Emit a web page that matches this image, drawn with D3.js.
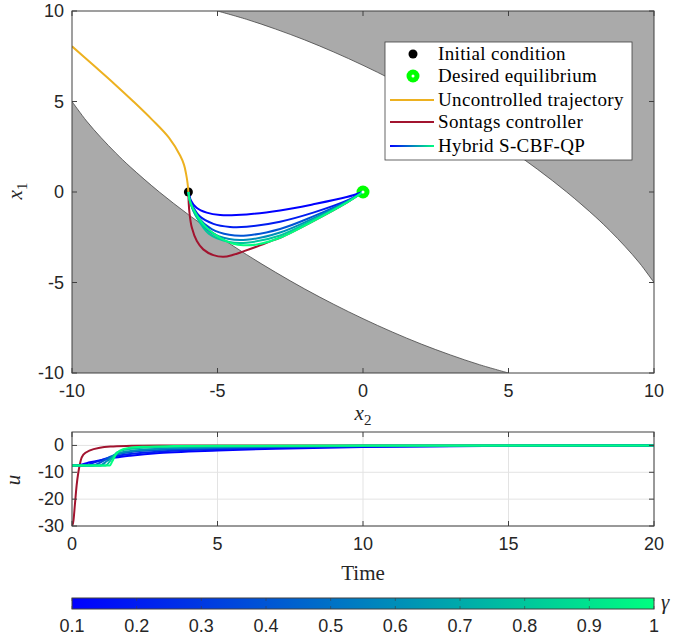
<!DOCTYPE html>
<html><head><meta charset="utf-8">
<script src="https://cdn.jsdelivr.net/npm/d3@7"></script>
<style>body{margin:0;background:#fff}svg{display:block}</style>
</head><body>
<svg id="c" width="699" height="641"></svg>
<script>
// ---------- DATA ----------
const x2Ticks = [-10, -5, 0, 5, 10];
const x1Ticks = [-10, -5, 0, 5, 10];
const timeTicks = [0, 5, 10, 15, 20];
const uTicks = [-30, -20, -10, 0];
const gammaTicks = [0.1, 0.2, 0.3, 0.4, 0.5, 0.6, 0.7, 0.8, 0.9, 1];
const legendLabels = ["Initial condition", "Desired equilibrium", "Uncontrolled trajectory", "Sontags controller", "Hybrid S-CBF-QP"];

// safe-set boundary (x2, x1)
const lowerBoundary = [[-10,5],[-9.5,3.92],[-9,3.0],[-8.5,2.16],[-8,1.39],[-7,0],[-6,-1.25],[-5,-2.4],[-4,-3.46],[-3,-4.44],[-2,-5.36],[-1,-6.21],[0,-7],[1,-7.73],[2,-8.4],[3,-9.0],[4,-9.54],[5,-10]];
const upperBoundary = [[-5,10],[-4,9.54],[-3,9.0],[-2,8.4],[-1,7.73],[0,7],[1,6.21],[2,5.36],[3,4.44],[4,3.46],[5,2.4],[6,1.25],[7,0],[8,-1.39],[8.5,-2.16],[9,-3.0],[9.5,-3.92],[10,-5]];

const initialCondition = [-6, 0];
const desiredEquilibrium = [0, 0];

const uncontrolledTraj = [[-6,0],[-6.03,0.5],[-6.08,1],[-6.15,1.5],[-6.28,2],[-6.67,3],[-7.25,4],[-7.89,5],[-8.56,6],[-9.26,7],[-10,8.05]];
const sontagTraj = [[-6,0],[-5.99,-0.6],[-5.96,-1.2],[-5.88,-1.98],[-5.71,-2.71],[-5.49,-3.17],[-5.14,-3.49],[-4.8,-3.58],[-4.46,-3.47],[-4.11,-3.28],[-3.54,-2.95],[-3.08,-2.66],[-2.85,-2.53],[-1.71,-1.61],[-0.56,-0.59],[0,0]];

const gammas = [0.1, 0.2, 0.4, 0.6, 0.8, 1.0];
const hybridTraj = [
  [[-6,0],[-5.92,-0.45],[-5.72,-0.87],[-5.37,-1.14],[-4.91,-1.27],[-4.0,-1.24],[-2.85,-1.02],[-1.71,-0.68],[-0.56,-0.28],[0,0]],
  [[-6,0],[-5.9,-0.6],[-5.62,-1.33],[-5.14,-1.76],[-4.57,-1.93],[-4.0,-1.92],[-2.85,-1.64],[-1.71,-1.14],[-0.56,-0.48],[0,0]],
  [[-6,0],[-5.92,-0.62],[-5.66,-1.42],[-5.2,-2.05],[-4.6,-2.36],[-4.0,-2.4],[-2.85,-2.04],[-1.71,-1.35],[-0.56,-0.52],[0,0]],
  [[-6,0],[-5.93,-0.6],[-5.69,-1.45],[-5.25,-2.2],[-4.6,-2.6],[-4.0,-2.64],[-2.85,-2.24],[-1.71,-1.46],[-0.56,-0.55],[0,0]],
  [[-6,0],[-5.94,-0.55],[-5.71,-1.4],[-5.3,-2.3],[-4.6,-2.76],[-4.0,-2.8],[-2.85,-2.4],[-1.71,-1.54],[-0.56,-0.58],[0,0]],
  [[-6,0],[-5.95,-0.5],[-5.72,-1.24],[-5.37,-1.98],[-4.91,-2.53],[-4.46,-2.86],[-4.11,-2.94],[-3.65,-2.9],[-2.85,-2.53],[-1.71,-1.61],[-0.56,-0.59],[0,0]]
];

const sontagU = [[0,-30],[0.05,-28],[0.1,-22],[0.16,-14.8],[0.22,-9.9],[0.3,-5.6],[0.39,-3.4],[0.62,-1.85],[0.96,-0.85],[1.42,-0.37],[2.1,-0.1],[3,0],[20,0]];
const hybridU = [
  [[0,-7.5],[0.25,-7.3],[0.5,-6.6],[1,-5.5],[1.5,-4.5],[2,-3.8],[3,-2.8],[4,-2.3],[5,-1.9],[7,-1.2],[10,-0.6],[15,-0.2],[20,-0.05]],
  [[0,-7.5],[0.45,-7.4],[0.8,-6.2],[1.2,-4.8],[1.5,-4.0],[2,-3.2],[3,-2.3],[5,-1.4],[7,-0.8],[10,-0.4],[15,-0.1],[20,0]],
  [[0,-7.5],[0.7,-7.5],[1.0,-6.2],[1.3,-4.3],[1.6,-3.2],[2,-2.5],[3,-1.7],[5,-1.0],[7,-0.5],[10,-0.25],[20,0]],
  [[0,-7.5],[0.95,-7.5],[1.2,-5.8],[1.45,-3.6],[1.7,-2.6],[2.2,-1.8],[3,-1.2],[5,-0.6],[10,-0.15],[20,0]],
  [[0,-7.5],[1.15,-7.5],[1.35,-5.2],[1.55,-2.6],[1.8,-1.6],[2.3,-1.0],[3,-0.6],[5,-0.3],[10,-0.05],[20,0]],
  [[0,-7.5],[1.3,-7.5],[1.38,-6],[1.5,-3.5],[1.65,-1.9],[1.9,-1.0],[2.5,-0.5],[3.5,-0.25],[5,-0.1],[20,0]]
];

// ---------- DRAW ----------
const svg = d3.select("#c");
const defs = svg.append("defs");
const AX = "#404040", TICKF = "'Liberation Sans', Arial, sans-serif", SERIF = "'Liberation Serif', 'Times New Roman', serif";
const ORANGE = "#EDB120", RED = "#A2142F";
const gMin = 0.1, gMax = 1;
const winter = g => { const t = (g - gMin) / (gMax - gMin); return d3.rgb(0, 255 * t, 255 - 127.5 * t).formatHex(); };

const L = 72, R = 654;
// top plot
const T1 = 11, B1 = 373;
const x = d3.scaleLinear().domain([-10, 10]).range([L, R]);
const y = d3.scaleLinear().domain([-10, 10]).range([B1, T1]);
defs.append("clipPath").attr("id", "clipTop").append("rect").attr("x", L).attr("y", T1).attr("width", R - L).attr("height", B1 - T1);
const topG = svg.append("g");
const pl = topG.append("g").attr("clip-path", "url(#clipTop)");
const bnd = d3.line().x(d => x(d[0])).y(d => y(d[1])).curve(d3.curveCatmullRom.alpha(0.5));
const area1 = bnd(lowerBoundary) + `L${x(-10)},${y(-10)}Z`;
const area2 = bnd(upperBoundary) + `L${x(10)},${y(10)}Z`;
pl.append("path").attr("d", area1).attr("fill", "#aaaaaa");
pl.append("path").attr("d", area2).attr("fill", "#aaaaaa");
pl.append("path").attr("d", bnd(lowerBoundary)).attr("fill", "none").attr("stroke", "#444").attr("stroke-width", 0.8);
pl.append("path").attr("d", bnd(upperBoundary)).attr("fill", "none").attr("stroke", "#444").attr("stroke-width", 0.8);

// markers
pl.append("circle").attr("cx", x(initialCondition[0])).attr("cy", y(initialCondition[1])).attr("r", 4.5).attr("fill", "#000");
pl.append("circle").attr("cx", x(desiredEquilibrium[0])).attr("cy", y(desiredEquilibrium[1])).attr("r", 6.5).attr("fill", "#00ff00");

const ln = d3.line().x(d => x(d[0])).y(d => y(d[1])).curve(d3.curveCatmullRom.alpha(0.5));
pl.append("path").attr("d", ln(uncontrolledTraj)).attr("fill", "none").attr("stroke", ORANGE).attr("stroke-width", 2);
pl.append("path").attr("d", ln(sontagTraj)).attr("fill", "none").attr("stroke", RED).attr("stroke-width", 2);
hybridTraj.forEach((tr, i) => {
  pl.append("path").attr("d", ln(tr)).attr("fill", "none").attr("stroke", winter(gammas[i])).attr("stroke-width", 2);
});
pl.append("circle").attr("cx", x(desiredEquilibrium[0])).attr("cy", y(desiredEquilibrium[1])).attr("r", 1.5).attr("fill", "#fff");

function gridLines(g, xs, ys, xt, yt, t, b) {
  g.selectAll(".gx").data(xt).enter().append("line").attr("x1", d => xs(d)).attr("x2", d => xs(d)).attr("y1", t).attr("y2", b).attr("stroke", "#e3e3e3").attr("stroke-width", 1);
  g.selectAll(".gy").data(yt).enter().append("line").attr("y1", d => ys(d)).attr("y2", d => ys(d)).attr("x1", L).attr("x2", R).attr("stroke", "#e3e3e3").attr("stroke-width", 1);
}
function axesBox(g, xs, ys, xt, yt, t, b) {
  const tl = 5;
  xt.forEach(d => {
    g.append("line").attr("x1", xs(d)).attr("x2", xs(d)).attr("y1", b).attr("y2", b - tl).attr("stroke", AX);
    g.append("line").attr("x1", xs(d)).attr("x2", xs(d)).attr("y1", t).attr("y2", t + tl).attr("stroke", AX);
  });
  yt.forEach(d => {
    g.append("line").attr("y1", ys(d)).attr("y2", ys(d)).attr("x1", L).attr("x2", L + tl).attr("stroke", AX);
    g.append("line").attr("y1", ys(d)).attr("y2", ys(d)).attr("x1", R).attr("x2", R - tl).attr("stroke", AX);
  });
  g.append("rect").attr("x", L).attr("y", t).attr("width", R - L).attr("height", b - t).attr("fill", "none").attr("stroke", AX).attr("stroke-width", 1);
  g.selectAll(".xl").data(xt).enter().append("text").attr("x", d => xs(d)).attr("y", b + 24)
    .attr("text-anchor", "middle").attr("font-family", TICKF).attr("font-size", 18).attr("fill", "#262626").text(d => d);
  g.selectAll(".yl").data(yt).enter().append("text").attr("x", L - 8).attr("y", d => ys(d) + 6)
    .attr("text-anchor", "end").attr("font-family", TICKF).attr("font-size", 18).attr("fill", "#262626").text(d => d);
}
axesBox(topG, x, y, x2Ticks, x1Ticks, T1, B1);

// axis labels
function mathLabel(g, xp, yp, main, sub, rot) {
  const t = g.append("text").attr("font-family", SERIF).attr("font-size", 21).attr("fill", "#262626")
    .attr("text-anchor", "middle")
    .attr("transform", `translate(${xp},${yp})` + (rot ? " rotate(-90)" : ""));
  t.append("tspan").attr("font-style", "italic").text(main);
  if (sub) t.append("tspan").attr("font-size", 15).attr("dy", 5).text(sub);
}
mathLabel(svg, 363, 420, "x", "2", false);
mathLabel(svg, 22, 191, "x", "1", true);

// legend
const lg = svg.append("g");
lg.append("rect").attr("x", 385).attr("y", 42).attr("width", 247).attr("height", 118).attr("fill", "#fff").attr("stroke", AX).attr("stroke-width", 0.8);
const ly = [54, 76, 100, 122, 146];
const grad = defs.append("linearGradient").attr("id", "lgGrad");
grad.append("stop").attr("offset", "0%").attr("stop-color", winter(gMin));
grad.append("stop").attr("offset", "100%").attr("stop-color", winter(gMax));
lg.append("circle").attr("cx", 413).attr("cy", ly[0]).attr("r", 4.5).attr("fill", "#000");
lg.append("circle").attr("cx", 413).attr("cy", ly[1]).attr("r", 6.5).attr("fill", "#00ff00");
lg.append("circle").attr("cx", 413).attr("cy", ly[1]).attr("r", 1.5).attr("fill", "#fff");
lg.append("line").attr("x1", 390).attr("x2", 434).attr("y1", ly[2]).attr("y2", ly[2]).attr("stroke", ORANGE).attr("stroke-width", 2);
lg.append("line").attr("x1", 390).attr("x2", 434).attr("y1", ly[3]).attr("y2", ly[3]).attr("stroke", RED).attr("stroke-width", 2);
lg.append("rect").attr("x", 390).attr("width", 44).attr("y", ly[4] - 1).attr("height", 2).attr("fill", "url(#lgGrad)");
legendLabels.forEach((s, i) => {
  lg.append("text").attr("x", 438).attr("y", ly[i] + 5.5).attr("font-family", SERIF).attr("font-size", 19).attr("letter-spacing", 0.35).attr("fill", "#000").text(s);
});

// bottom plot
const T2 = 432, B2 = 526;
const xt = d3.scaleLinear().domain([0, 20]).range([L, R]);
const yu = d3.scaleLinear().domain([-30, 5]).range([B2, T2]);
const bot = svg.append("g");
gridLines(bot, xt, yu, timeTicks, uTicks, T2, B2);
defs.append("clipPath").attr("id", "clipBot").append("rect").attr("x", L).attr("y", T2).attr("width", R - L).attr("height", B2 - T2);
const pb = bot.append("g").attr("clip-path", "url(#clipBot)");
const lu = d3.line().x(d => xt(d[0])).y(d => yu(d[1])).curve(d3.curveMonotoneX);
pb.append("path").attr("d", lu(sontagU)).attr("fill", "none").attr("stroke", RED).attr("stroke-width", 2);
hybridU.forEach((tr, i) => {
  pb.append("path").attr("d", lu(tr)).attr("fill", "none").attr("stroke", winter(gammas[i])).attr("stroke-width", 2);
});
axesBox(bot, xt, yu, timeTicks, uTicks, T2, B2);
mathLabel(svg, 20, 480, "u", null, true);
svg.append("text").attr("x", 363).attr("y", 580).attr("text-anchor", "middle").attr("font-family", SERIF).attr("font-size", 21).attr("fill", "#262626").text("Time");

// colorbar
const CT = 598, CB = 609;
const xc = d3.scaleLinear().domain([gMin, gMax]).range([L, R]);
const cg = defs.append("linearGradient").attr("id", "cbGrad");
cg.append("stop").attr("offset", "0%").attr("stop-color", winter(gMin));
cg.append("stop").attr("offset", "100%").attr("stop-color", winter(gMax));
svg.append("rect").attr("x", L).attr("y", CT).attr("width", R - L).attr("height", CB - CT).attr("fill", "url(#cbGrad)").attr("stroke", AX).attr("stroke-width", 1);
gammaTicks.forEach(d => {
  svg.append("line").attr("x1", xc(d)).attr("x2", xc(d)).attr("y1", CB).attr("y2", CB - 3).attr("stroke", AX).attr("stroke-opacity", 0.6);
  svg.append("line").attr("x1", xc(d)).attr("x2", xc(d)).attr("y1", CT).attr("y2", CT + 3).attr("stroke", AX).attr("stroke-opacity", 0.6);
});
svg.selectAll(".cl").data(gammaTicks).enter().append("text").attr("x", d => xc(d)).attr("y", CB + 23)
  .attr("text-anchor", "middle").attr("font-family", TICKF).attr("font-size", 18).attr("fill", "#262626").text(d => d);
svg.append("text").attr("x", 661).attr("y", 609).attr("font-family", SERIF).attr("font-style", "italic").attr("font-size", 21).attr("fill", "#262626").text("γ");
</script>
</body></html>
